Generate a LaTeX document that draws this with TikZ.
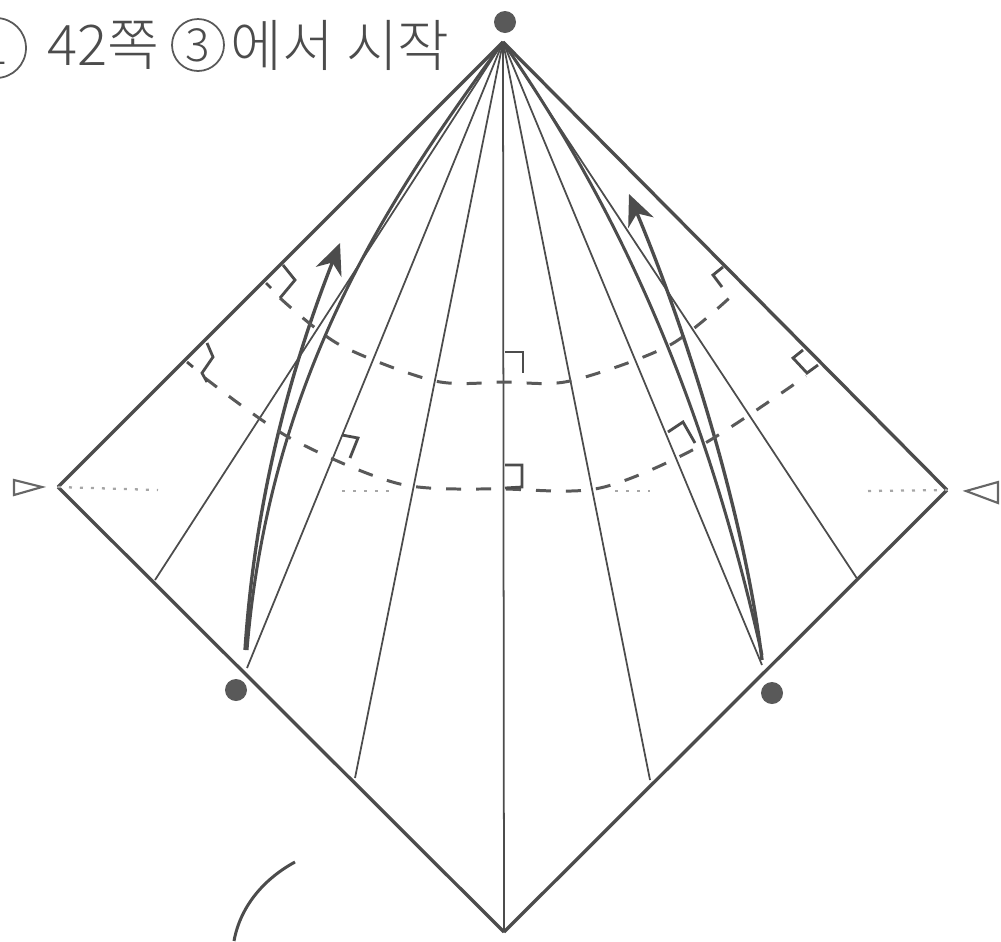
\documentclass[tikz,border=0pt]{standalone}
\usepackage{fontspec}
\usepackage{tikz}
\usetikzlibrary{arrows.meta}
\newfontfamily\krfont{Noto Sans CJK KR Light}

\begin{document}
\begin{tikzpicture}[x=0.02cm, y=-0.02cm,
    outline/.style={draw=black!70, line width=1.9pt},
    fold/.style={draw=black!70, line width=1pt},
    curl/.style={draw=black!70, line width=1.7pt},
    flip/.style={draw=black!70, line width=1.9pt, -{Stealth[length=0.62cm, width=0.55cm, inset=0.2cm]}},
    dasharc/.style={draw=black!65, line width=1.7pt, dash pattern=on 0.3cm off 0.3cm},
    rightmark/.style={draw=black!70, line width=1.6pt},
    guide/.style={draw=black!35, line width=1.3pt, dash pattern=on 0.06cm off 0.16cm},
    dot/.style={circle, fill=black!65, inner sep=0pt, minimum size=0.44cm},
    tri/.style={draw=black!60, line width=1.2pt},
    caption/.style={inner sep=0pt, text=black!70, font=\krfont\fontsize{32}{32}\selectfont},
    ringed/.style={circle, draw=black!65, line width=1pt, inner sep=0pt, minimum size=1.04cm, text=black!70, font=\krfont\fontsize{26}{26}\selectfont}]
    \useasboundingbox (0,0) rectangle (1001,941);

    % Corners and folds on the edges
    \coordinate (C_T) at (503,42);
    \coordinate (C_L) at (58,487);
    \coordinate (C_R) at (947,490);
    \coordinate (C_B) at (504,932);
    \coordinate (F_L1) at (155,580);
    \coordinate (F_L2) at (247,668);
    \coordinate (F_L3) at (355,778);
    \coordinate (F_R3) at (650,780);
    \coordinate (F_R2) at (762,665);
    \coordinate (F_R1) at (858,580);

    % Dots
    \node[dot] (D_T) at (505,22) {};
    \node[dot] (D_L) at (236,690) {};
    \node[dot] (D_R) at (772,693) {};

    % Caption
    \node[ringed, minimum size=1.2cm] (T_A) at (-4,48) {1};
    \node[caption, anchor=west] (T_B) at (47,45) {42쪽};
    \node[ringed] (T_C) at (198,45) {3};
    \node[caption, anchor=west] (T_D) at (230,45) {에서 시작};

    % Outline
    \draw[outline] (C_T) -- (C_L); \draw[outline] (C_L) -- (C_B);
    \draw[outline] (C_B) -- (C_R); \draw[outline] (C_R) -- (C_T);

    % Thin folds
    \draw[fold] (C_T) -- (F_L1); \draw[fold] (C_T) -- (F_L2); \draw[fold] (C_T) -- (F_L3);
    \draw[fold] (C_T) -- (C_B);
    \draw[fold] (C_T) -- (F_R3); \draw[fold] (C_T) -- (F_R2); \draw[fold] (C_T) -- (F_R1);

    % Curved folds and arrows
    \draw[curl] (C_T) .. controls (395,190) and (270,370) .. (247,650);
    \draw[curl] (C_T) .. controls (605,190) and (698,370) .. (762,655);
    \draw[flip] (245,650) .. controls (255,500) and (290,370) .. (340,243);
    \draw[flip] (762,660) .. controls (745,520) and (690,340) .. (629,194);
    \draw[curl] (295,862) .. controls (262,880) and (240,908) .. (234,941);

    % Dashed arcs
    \draw[dasharc] plot[smooth] coordinates {(280,298) (340,345) (435,381) (505,382) (570,381) (670,345) (738,290)};
    \draw[dasharc] plot[smooth] coordinates {(205,378) (290,438) (400,484) (505,489) (600,488) (700,446) (806,376)};

    % Right angle marks
    \draw[rightmark] (283,265) -- (295,280) -- (280,298);
    \draw[rightmark] (266,283) -- (271,288);
    \draw[rightmark] (207,343) -- (213,357) -- (202,373) -- (207,382);
    \draw[rightmark] (187,362) -- (193,367);
    \draw[rightmark] (505,352) -- (523,352) -- (523,373);
    \draw[rightmark] (505,465) -- (522,465) -- (522,487) -- (505,488);
    \draw[rightmark] (342,435) -- (358,438) -- (350,458);
    \draw[rightmark] (723,267) -- (713,275) -- (722,287);
    \draw[rightmark] (803,350) -- (793,358) -- (807,373) -- (818,365);
    \draw[rightmark] (668,432) -- (683,422) -- (695,443);

    % Dotted guides
    \coordinate (G_A) at (158,490); \coordinate (G_B) at (342,491); \coordinate (G_C) at (395,491);
    \coordinate (G_D) at (615,491); \coordinate (G_E) at (650,491); \coordinate (G_F) at (868,491);
    \draw[guide] (C_L) -- (G_A); \draw[guide] (G_B) -- (G_C);
    \draw[guide] (G_D) -- (G_E); \draw[guide] (G_F) -- (C_R);

    % Side triangles
    \draw[tri] (14,480) -- (42,487) -- (14,495) -- cycle;
    \draw[tri] (998,482) -- (966,491) -- (998,503) -- cycle;
\end{tikzpicture}
\end{document}
